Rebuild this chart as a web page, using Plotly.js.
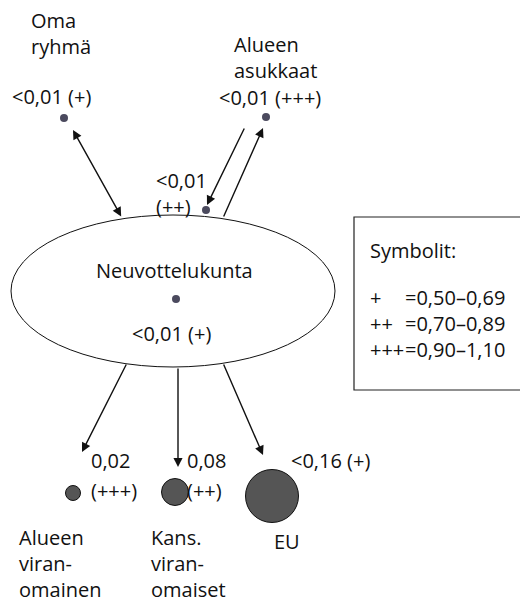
<!DOCTYPE html>
<html>
<head>
<meta charset="utf-8">
<script src="https://cdn.plot.ly/plotly-3.0.1.min.js"></script>
<style>html,body{margin:0;padding:0;background:#fff;}#chart{width:520px;height:604px;}</style>
</head>
<body>
<div id="chart"></div>
<script>
// ---- data ----
const nodeNames = ['Oma ryhmä', 'Alueen asukkaat', 'Alueen asukkaat (paluu)', 'Neuvottelukunta',
                   'Alueen viranomainen', 'Kans. viranomaiset', 'EU'];
const nodeLabelLines = [['Oma', 'ryhmä'], ['Alueen', 'asukkaat'], [], ['Neuvottelukunta'],
                        ['Alueen', 'viran-', 'omainen'], ['Kans.', 'viran-', 'omaiset'], ['EU']];
const nodeValues = ['<0,01 (+)', '<0,01 (+++)', '<0,01 (++)', '<0,01 (+)',
                    '0,02 (+++)', '0,08 (++)', '<0,16 (+)'];
const symbolKeys = ['+', '++', '+++'];
const symbolRanges = ['=0,50–0,69', '=0,70–0,89', '=0,90–1,10'];
const legendTitle = 'Symbolit:';

// ---- layout (pixel-like diagram coordinates) ----
const nodeX = [64, 266, 206, 176, 73, 175, 272];
const nodeY = [118, 117, 210, 299, 493, 492, 496];
const nodeSize = [8, 8, 8, 8, 15, 27, 53];
const nodeColor = ['#4b4a5e', '#4b4a5e', '#4b4a5e', '#4b4a5e', '#555555', '#555555', '#555555'];
const nodeLine = [0, 0, 0, 0, 1, 1, 1];

const FONT = 'Open Sans, sans-serif';
const FS = 20;
const ann = [];
function txt(x, y, t, anchor, yanchor) {
  ann.push({x: x, y: y, xref: 'x', yref: 'y', text: t, showarrow: false,
            xanchor: anchor || 'left', yanchor: yanchor || 'middle', align: 'left',
            borderpad: 0,
            font: {family: FONT, size: FS, color: '#111'}});
}
function arrow(x0, y0, x1, y1, both) {
  ann.push({x: x1, y: y1, ax: x0, ay: y0, xref: 'x', yref: 'y', axref: 'x', ayref: 'y',
            text: '', showarrow: true, arrowhead: 2, arrowsize: 1.3, arrowwidth: 1.4,
            arrowcolor: '#111', standoff: 0, startstandoff: 0,
            arrowside: both ? 'end+start' : 'end', startarrowhead: 2, startarrowsize: 1.3});
}
const br = a => a.join('<br>');

// node name labels
txt(30, 33, br(nodeLabelLines[0]));
txt(233, 57, br(nodeLabelLines[1]));
txt(174, 270, br(nodeLabelLines[3]), 'center');
txt(18, 604, br(nodeLabelLines[4]), 'left', 'bottom');
txt(150, 604, br(nodeLabelLines[5]), 'left', 'bottom');
txt(287, 541, br(nodeLabelLines[6]), 'center');

// value labels
txt(11, 96, nodeValues[0]);
txt(218, 97, nodeValues[1]);
txt(155, 193, br(nodeValues[2].split(' ')));
txt(171, 333, nodeValues[3], 'center');
txt(90, 460, nodeValues[4].split(' ')[0]); txt(90, 490, nodeValues[4].split(' ')[1]);
txt(186, 460, nodeValues[5].split(' ')[0]); txt(186, 490, nodeValues[5].split(' ')[1]);
txt(290, 460, nodeValues[6]);

// legend box text
txt(369, 250, legendTitle);
txt(369, 323, br(symbolKeys));
txt(404, 323, br(symbolRanges));

// arrows
arrow(122, 218, 73, 130, true);
arrow(245, 127, 207, 205);
arrow(223, 218, 263, 128);
arrow(127, 363, 82, 452);
arrow(178, 367, 178, 467);
arrow(223, 363, 263, 455);

const shapes = [
  {type: 'circle', xref: 'x', yref: 'y', x0: 11, x1: 335, y0: 215, y1: 367,
   line: {color: '#111', width: 1}, fillcolor: 'rgba(0,0,0,0)', layer: 'below'},
  {type: 'rect', xref: 'x', yref: 'y', x0: 354, x1: 530, y0: 217, y1: 390,
   line: {color: '#222', width: 1.2}, fillcolor: 'rgba(0,0,0,0)', layer: 'below'}
];

const trace = {
  type: 'scatter', mode: 'markers', x: nodeX, y: nodeY, text: nodeNames,
  hoverinfo: 'text',
  marker: {size: nodeSize, color: nodeColor, opacity: 1, line: {color: '#111', width: nodeLine}},
  cliponaxis: false
};

const layout = {
  width: 520, height: 604,
  margin: {l: 0, r: 0, t: 0, b: 0, pad: 0},
  paper_bgcolor: '#fff', plot_bgcolor: '#fff',
  showlegend: false,
  xaxis: {range: [0, 520], visible: false, fixedrange: true},
  yaxis: {range: [604, 0], visible: false, fixedrange: true},
  shapes: shapes, annotations: ann
};

Plotly.newPlot('chart', [trace], layout, {staticPlot: true, displayModeBar: false});
</script>
</body>
</html>
